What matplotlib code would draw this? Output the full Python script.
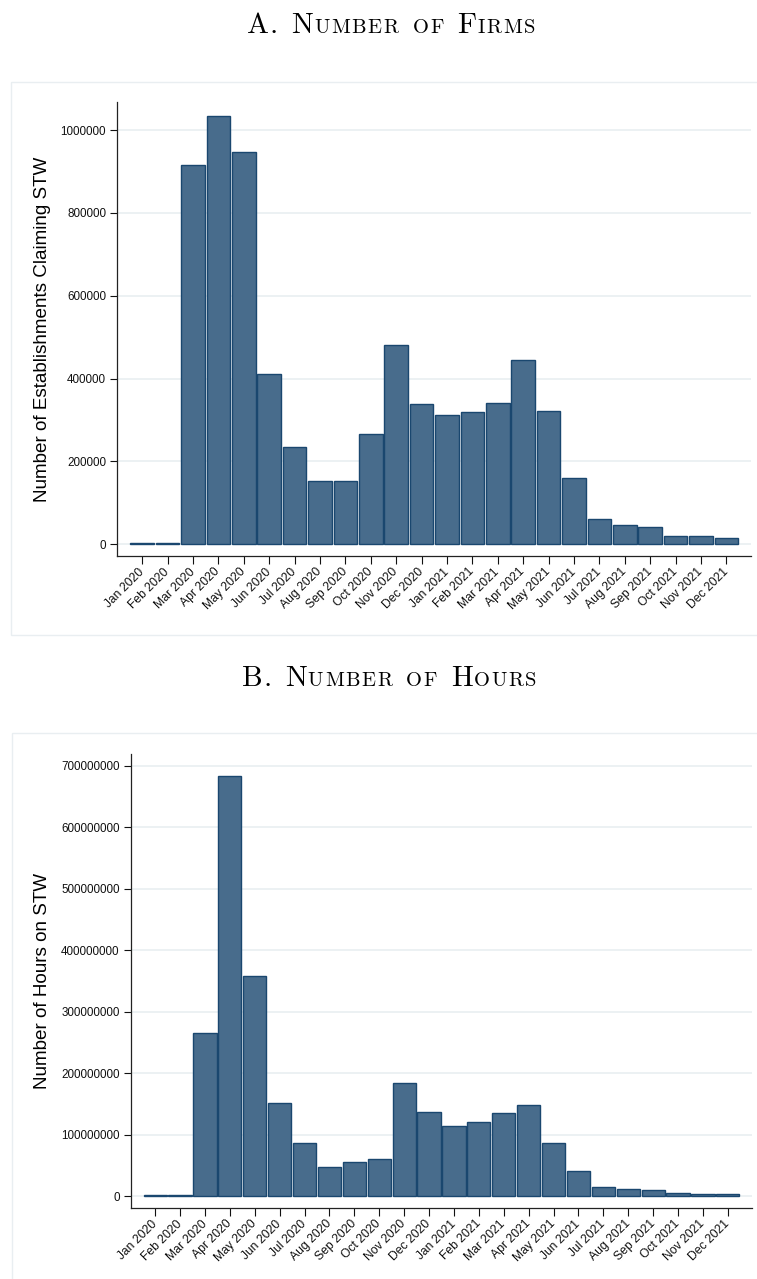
import matplotlib
matplotlib.use("Agg")
import matplotlib.pyplot as plt
from matplotlib.patches import Rectangle

W, H = 757, 1279
NAVY = "#1a476f"
FILL = "#486c8c"
GRID = "#e7edf0"
BOX = "#e9eef1"

months = ["Jan 2020", "Feb 2020", "Mar 2020", "Apr 2020", "May 2020", "Jun 2020",
          "Jul 2020", "Aug 2020", "Sep 2020", "Oct 2020", "Nov 2020", "Dec 2020",
          "Jan 2021", "Feb 2021", "Mar 2021", "Apr 2021", "May 2021", "Jun 2021",
          "Jul 2021", "Aug 2021", "Sep 2021", "Oct 2021", "Nov 2021", "Dec 2021"]

firms = [3000, 3000, 915000, 1035000, 947000, 411000, 235000, 153000, 152000,
         267000, 481000, 339000, 312000, 320000, 340000, 445000, 323000, 161000,
         60000, 47000, 42000, 19000, 21000, 16000]

hours = [1.5e6, 1.5e6, 265e6, 684e6, 358e6, 151e6, 86e6, 47e6, 56e6, 60e6,
         184e6, 137e6, 114e6, 120e6, 135e6, 148e6, 86e6, 40e6, 14.6e6, 11.4e6,
         9.8e6, 5.4e6, 3.8e6, 3.8e6]

firm_ticks = [0, 200000, 400000, 600000, 800000, 1000000]
hour_ticks = [0, 100000000, 200000000, 300000000, 400000000, 500000000,
              600000000, 700000000]

plt.rcParams["font.family"] = ["Liberation Sans", "DejaVu Sans"]

fig = plt.figure(figsize=(W / 100, H / 100), dpi=100)


def px_rect(l, t, r, b):
    return [l / W, 1 - b / H, (r - l) / W, (b - t) / H]


def smallcaps(text, x_px, base_px, big=21.0, small=14.8, space_px=12.5,
              track=1.6):
    # LaTeX-style small caps: capitals at full size, lowercase drawn as
    # slightly tracked small capitals
    renderer = fig.canvas.get_renderer()
    x = x_px
    for i, word in enumerate(text.split(" ")):
        if i:
            x += space_px
        for ch in word:
            is_small = ch.islower()
            t = fig.text(x / W, 1 - base_px / H, ch.upper(), family="cmr10",
                         fontsize=small if is_small else big,
                         ha="left", va="baseline")
            x += t.get_window_extent(renderer).width + (track if is_small else 1.0)


def panel(rect, values, ticks, ylim, ylabel):
    l, t, r, b = rect
    ax = fig.add_axes(px_rect(l, t, r, b))
    pos = list(range(len(values)))
    ax.bar(pos, values, width=0.93, color=FILL, edgecolor=NAVY, linewidth=1.0,
           zorder=2)
    ax.set_xlim(-0.97, len(values) - 1 + 0.97)
    ax.set_ylim(*ylim)
    ax.set_yticks(ticks, [str(v) for v in ticks])
    ax.set_xticks(pos, months, rotation=45, ha="right", va="center",
                  rotation_mode="anchor")
    ax.tick_params(axis="y", length=5.4, width=0.8, pad=2.8, labelsize=8.4,
                   colors="#111111")
    ax.tick_params(axis="x", length=5.6, width=0.8, pad=4.5, labelsize=8.7,
                   colors="#111111")
    ax.grid(axis="y", color=GRID, linewidth=1.1, zorder=0)
    ax.set_axisbelow(True)
    for side in ("top", "right"):
        ax.spines[side].set_visible(False)
    for side in ("left", "bottom"):
        ax.spines[side].set_color("#222222")
        ax.spines[side].set_linewidth(0.9)
    fig.text(43 / W, 1 - (t + b) / 2 / H, ylabel, rotation=90, fontsize=13.6,
             ha="center", va="center")
    return ax


# light frames around each panel
fig.patches.append(Rectangle((11 / W, 1 - 635 / H), (770 - 11) / W, (635 - 82) / H,
                             transform=fig.transFigure, fill=False,
                             edgecolor=BOX, linewidth=1.0))
fig.patches.append(Rectangle((12 / W, 1 - 1290 / H), (770 - 12) / W, (1290 - 733) / H,
                             transform=fig.transFigure, fill=False,
                             edgecolor=BOX, linewidth=1.0))

panel((117.5, 102, 751, 556), firms, firm_ticks, (-28300, 1068000),
      "Number of Establishments Claiming STW")
panel((131, 754, 752, 1208), hours, hour_ticks, (-19.5e6, 719e6),
      "Number of Hours on STW")

smallcaps("A. Number of Firms", 246.7, 32.7)
smallcaps("B. Number of Hours", 241.7, 685.7)

fig.savefig("out.png", dpi=100, facecolor="white")
